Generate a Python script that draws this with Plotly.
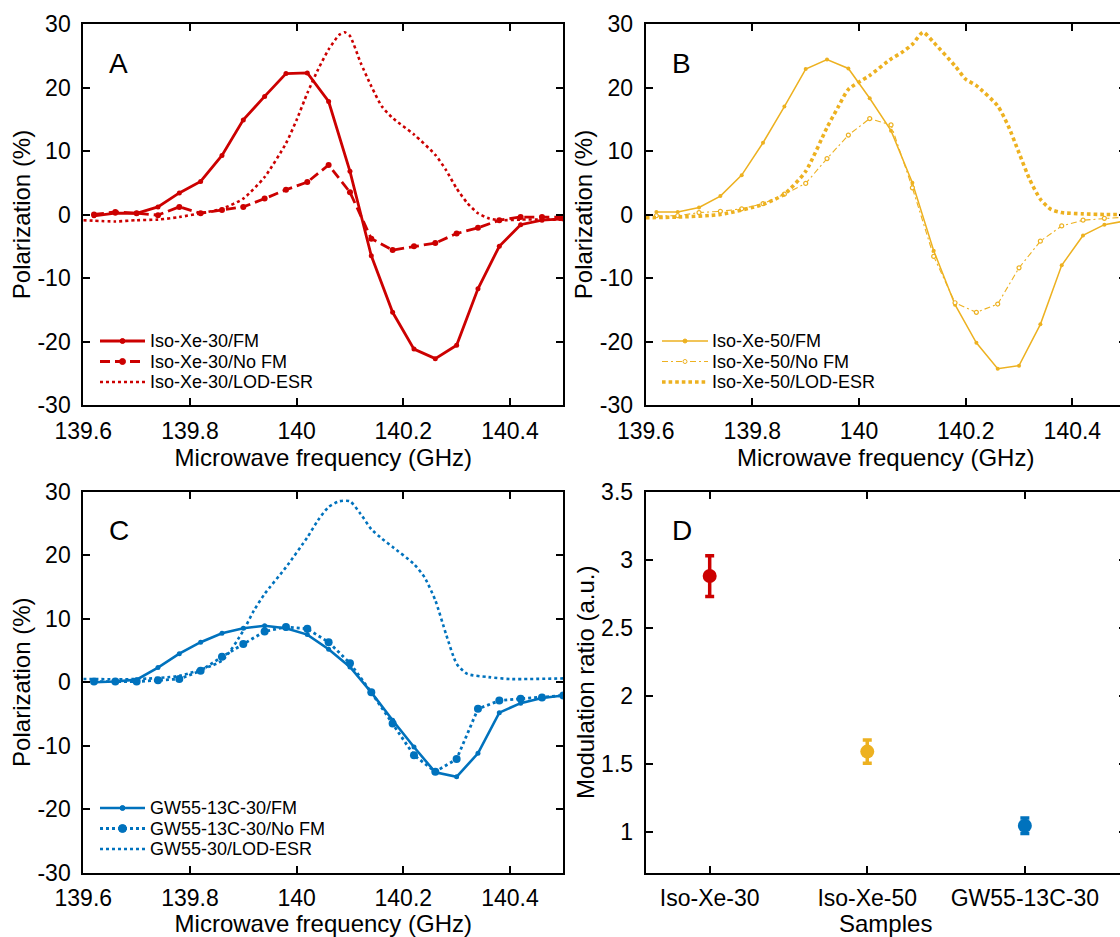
import plotly.graph_objects as go

# ---------------- data ----------------
freq_grid = [139.62, 139.66, 139.70, 139.74, 139.78, 139.82, 139.86, 139.90, 139.94, 139.98,
             140.02, 140.06, 140.10, 140.14, 140.18, 140.22, 140.26, 140.30, 140.34, 140.38,
             140.42, 140.46, 140.50]

a_fm = [-0.2, 0.2, 0.2, 1.2, 3.4, 5.2, 9.3, 14.9, 18.6, 22.2, 22.3, 17.8, 6.8, -6.5, -15.4,
        -21.2, -22.7, -20.6, -11.7, -5.0, -1.6, -0.9, -0.7]
a_nofm = [0.0, 0.4, 0.2, -0.1, 1.2, 0.2, 0.7, 1.2, 2.5, 3.9, 5.1, 7.8, 3.5, -3.8, -5.6,
          -5.0, -4.5, -3.0, -2.1, -0.9, -0.4, -0.4, -0.4]
a_esr_f = [139.60, 139.66, 139.70, 139.74, 139.78, 139.82, 139.86, 139.90, 139.94, 139.98,
           140.00, 140.02, 140.04, 140.06, 140.08, 140.09, 140.10, 140.12, 140.14, 140.16,
           140.18, 140.22, 140.26, 140.28, 140.30, 140.32, 140.34, 140.36, 140.38, 140.42,
           140.46, 140.50]
a_esr = [-0.9, -1.1, -0.9, -0.8, -0.4, 0.2, 0.9, 2.5, 5.9, 11.2, 14.9, 19.1, 22.8, 26.0,
         28.3, 28.7, 28.1, 23.9, 20.2, 17.0, 15.2, 12.6, 9.4, 7.0, 4.1, 1.8, 0.2, -0.6,
         -0.9, -0.8, -0.8, -0.8]

b_fm = [0.4, 0.4, 1.1, 2.9, 6.2, 11.3, 17.0, 22.9, 24.4, 23.0, 18.3, 13.2, 5.0, -5.7,
        -14.2, -20.2, -24.3, -23.8, -17.3, -8.0, -3.3, -1.6, -1.0]
b_nofm = [-0.2, -0.2, 0.3, 0.5, 0.9, 1.7, 3.2, 4.9, 8.8, 12.5, 15.1, 14.1, 4.2, -6.6,
          -13.9, -15.4, -14.1, -8.4, -4.2, -1.8, -0.9, -0.6, -0.4]
b_esr_f = [139.60, 139.66, 139.74, 139.82, 139.86, 139.90, 139.94, 139.96, 139.98, 140.02,
           140.06, 140.08, 140.10, 140.12, 140.14, 140.18, 140.20, 140.22, 140.26, 140.28,
           140.30, 140.32, 140.34, 140.36, 140.38, 140.42, 140.46, 140.50]
b_esr = [-0.5, -0.4, 0.0, 1.6, 3.2, 6.8, 13.7, 16.8, 19.7, 21.9, 24.5, 25.5, 26.8, 28.7,
         27.1, 23.4, 21.3, 20.3, 17.1, 13.9, 9.7, 5.5, 2.4, 0.8, 0.3, 0.1, 0.0, 0.0]

c_fm = [0.0, 0.1, 0.4, 2.3, 4.5, 6.3, 7.7, 8.5, 8.9, 8.5, 7.5, 5.2, 2.4, -1.6, -6.0,
        -10.2, -14.2, -14.9, -11.2, -4.8, -3.3, -2.5, -2.1]
c_nofm = [0.1, 0.1, 0.1, 0.3, 0.5, 1.8, 4.0, 6.0, 8.0, 8.7, 8.4, 6.3, 3.0, -1.6, -6.5,
          -11.5, -14.1, -12.1, -4.2, -2.9, -2.6, -2.4, -2.1]
c_esr_f = [139.60, 139.70, 139.78, 139.86, 139.90, 139.92, 139.94, 139.98, 140.02, 140.04,
           140.06, 140.08, 140.10, 140.12, 140.14, 140.16, 140.18, 140.22, 140.24, 140.26,
           140.28, 140.30, 140.32, 140.36, 140.40, 140.50]
c_esr = [0.5, 0.5, 1.0, 3.4, 8.1, 11.3, 13.9, 18.1, 22.8, 25.5, 27.6, 28.5, 28.5, 26.5,
         24.1, 22.6, 21.3, 18.6, 16.5, 12.9, 7.6, 2.9, 1.3, 0.8, 0.5, 0.6]

samples = ["Iso-Xe-30", "Iso-Xe-50", "GW55-13C-30"]
sample_pos = [1, 2, 3]
mod_ratio = [2.88, 1.59, 1.045]
mod_err = [0.15, 0.085, 0.057]

freq_ticks = [139.6, 139.8, 140.0, 140.2, 140.4]
freq_ticktext = ["139.6", "139.8", "140", "140.2", "140.4"]
pol_ticks = [-30, -20, -10, 0, 10, 20, 30]
pol_ticktext = ["-30", "-20", "-10", "0", "10", "20", "30"]
ratio_ticks = [1, 1.5, 2, 2.5, 3, 3.5]
ratio_ticktext = ["1", "1.5", "2", "2.5", "3", "3.5"]

names_a = ["Iso-Xe-30/FM", "Iso-Xe-30/No FM", "Iso-Xe-30/LOD-ESR"]
names_b = ["Iso-Xe-50/FM", "Iso-Xe-50/No FM", "Iso-Xe-50/LOD-ESR"]
names_c = ["GW55-13C-30/FM", "GW55-13C-30/No FM", "GW55-30/LOD-ESR"]

RED = "#CC0000"
YEL = "#EDB120"
BLU = "#0072BD"
FONT = "Arial, Liberation Sans, sans-serif"

# ---------------- layout helpers ----------------
W, H = 1140, 937


def fx(px):
    return px / W


def fy(py):
    return 1 - py / H


fig = go.Figure()

# Panel A
fig.add_trace(go.Scatter(x=freq_grid, y=a_fm, mode="lines+markers", name=names_a[0],
                         line=dict(color=RED, width=2.8), marker=dict(size=5, color=RED),
                         xaxis="x", yaxis="y", showlegend=False))
fig.add_trace(go.Scatter(x=freq_grid, y=a_nofm, mode="lines+markers", name=names_a[1],
                         line=dict(color=RED, width=2.8, dash="10px,5px"),
                         marker=dict(size=6, color=RED), xaxis="x", yaxis="y", showlegend=False))
fig.add_trace(go.Scatter(x=a_esr_f, y=a_esr, mode="lines", name=names_a[2],
                         line=dict(color=RED, width=2.6, dash="3px,3px", shape="spline", smoothing=0.6),
                         xaxis="x", yaxis="y", showlegend=False))

# Panel B
fig.add_trace(go.Scatter(x=freq_grid, y=b_fm, mode="lines+markers", name=names_b[0],
                         line=dict(color=YEL, width=1.5), marker=dict(size=4, color=YEL),
                         xaxis="x2", yaxis="y2", showlegend=False))
fig.add_trace(go.Scatter(x=freq_grid, y=b_nofm, mode="lines+markers", name=names_b[1],
                         line=dict(color=YEL, width=1.1, dash="6px,3px,2px,3px"),
                         marker=dict(size=4, color="white", line=dict(color=YEL, width=1.2)),
                         xaxis="x2", yaxis="y2", showlegend=False))
fig.add_trace(go.Scatter(x=b_esr_f, y=b_esr, mode="lines", name=names_b[2],
                         line=dict(color=YEL, width=3.6, dash="3.6px,3px", shape="spline", smoothing=0.6),
                         xaxis="x2", yaxis="y2", showlegend=False))

# Panel C
fig.add_trace(go.Scatter(x=freq_grid, y=c_fm, mode="lines+markers", name=names_c[0],
                         line=dict(color=BLU, width=2.6), marker=dict(size=5, color=BLU),
                         xaxis="x3", yaxis="y3", showlegend=False))
fig.add_trace(go.Scatter(x=freq_grid, y=c_nofm, mode="lines+markers", name=names_c[1],
                         line=dict(color=BLU, width=2.8, dash="3px,3px"),
                         marker=dict(size=8, color=BLU), xaxis="x3", yaxis="y3", showlegend=False))
fig.add_trace(go.Scatter(x=c_esr_f, y=c_esr, mode="lines", name=names_c[2],
                         line=dict(color=BLU, width=2.6, dash="3px,3px", shape="spline", smoothing=0.6),
                         xaxis="x3", yaxis="y3", showlegend=False))

# Panel D
for i, col in enumerate([RED, YEL, BLU]):
    fig.add_trace(go.Scatter(x=[sample_pos[i]], y=[mod_ratio[i]], mode="markers",
                             marker=dict(size=14, color=col),
                             error_y=dict(type="data", array=[mod_err[i]], color=col,
                                          thickness=3.5, width=4.5),
                             xaxis="x4", yaxis="y4", showlegend=False))

ax_common = dict(showline=True, linecolor="black", linewidth=2, mirror="ticks",
                 ticks="inside", ticklen=7, tickwidth=1.6, tickcolor="black",
                 showgrid=False, zeroline=False, automargin=False,
                 tickfont=dict(family=FONT, size=23, color="black"))

TFONT = dict(family=FONT, size=24, color="black")

xa_freq = dict(ax_common, range=[139.6, 140.5], tickvals=freq_ticks, ticktext=freq_ticktext,
               title=dict(text="Microwave frequency (GHz)", font=TFONT, standoff=0),
               ticklabelstandoff=4)
ya_pol = dict(ax_common, range=[-30, 30], tickvals=pol_ticks, ticktext=pol_ticktext,
              title=dict(text="Polarization (%)", font=TFONT, standoff=0),
              ticklabelstandoff=6)

xA = (fx(83.3), fx(563.3))
xB = (fx(645.7), fx(1125.7))
yTop = (fy(405), fy(24))
yBot = (fy(872.7), fy(491.7))

fig.update_layout(
    width=W, height=H,
    margin=dict(l=0, r=0, t=0, b=0),
    paper_bgcolor="white", plot_bgcolor="white",
    font=dict(family=FONT, color="black"),
    xaxis=dict(xa_freq, domain=list(xA), anchor="y"),
    yaxis=dict(ya_pol, domain=list(yTop), anchor="x"),
    xaxis2=dict(xa_freq, domain=list(xB), anchor="y2"),
    yaxis2=dict(ya_pol, domain=list(yTop), anchor="x2"),
    xaxis3=dict(xa_freq, domain=list(xA), anchor="y3"),
    yaxis3=dict(ya_pol, domain=list(yBot), anchor="x3"),
    xaxis4=dict(ax_common, domain=list(xB), anchor="y4", range=[0.594, 3.64],
                tickvals=sample_pos, ticktext=samples, ticklabelstandoff=4,
                title=dict(text="Samples", font=TFONT, standoff=0)),
    yaxis4=dict(ax_common, domain=list(yBot), anchor="x4", range=[0.7, 3.5],
                tickvals=ratio_ticks, ticktext=ratio_ticktext, ticklabelstandoff=6,
                title=dict(text="Modulation ratio (a.u.)", font=TFONT, standoff=0)),
)

# panel letters
for letter, (px, py) in zip("ABCD", [(118, 63), (681, 63), (119, 530), (682, 530)]):
    fig.add_annotation(text=letter, x=fx(px), y=fy(py), xref="paper", yref="paper",
                       showarrow=False, xanchor="center", yanchor="middle",
                       font=dict(family=FONT, size=28, color="black"))


# custom legends (decoration only)
def add_legend(names, styles, x0, x1, xt, rows, color):
    for name, st, ry in zip(names, styles, rows):
        fig.add_shape(type="line", xref="paper", yref="paper",
                      x0=fx(x0), x1=fx(x1), y0=fy(ry), y1=fy(ry),
                      line=dict(color=color, width=st["w"], dash=st["dash"]))
        if st.get("m"):
            r = st["m"] / 2
            cx = (x0 + x1) / 2
            fig.add_shape(type="circle", xref="paper", yref="paper",
                          x0=fx(cx - r), x1=fx(cx + r), y0=fy(ry + r), y1=fy(ry - r),
                          fillcolor=st.get("fill", color), line=dict(color=color, width=1))
        fig.add_annotation(text=name, x=fx(xt), y=fy(ry), xref="paper", yref="paper",
                           showarrow=False, xanchor="left", yanchor="middle",
                           font=dict(family=FONT, size=18, color="black"))


add_legend(names_a,
           [dict(w=2.8, dash="solid", m=5), dict(w=2.8, dash="10px,5px", m=6), dict(w=2.6, dash="3px,3px")],
           100, 145, 148, [341, 361.5, 382], RED)
add_legend(names_b,
           [dict(w=1.5, dash="solid", m=4), dict(w=1.1, dash="6px,3px,2px,3px", m=4, fill="white"),
            dict(w=3.6, dash="3.6px,3px")],
           662, 708, 710, [341, 361.5, 382], YEL)
add_legend(names_c,
           [dict(w=2.6, dash="solid", m=5), dict(w=2.8, dash="3px,3px", m=8), dict(w=2.6, dash="3px,3px")],
           100, 145, 148, [808, 828.5, 849], BLU)

fig.write_html("out.html", config=dict(displayModeBar=False),
               post_script="document.body.style.margin='0';document.body.style.overflow='hidden';")
